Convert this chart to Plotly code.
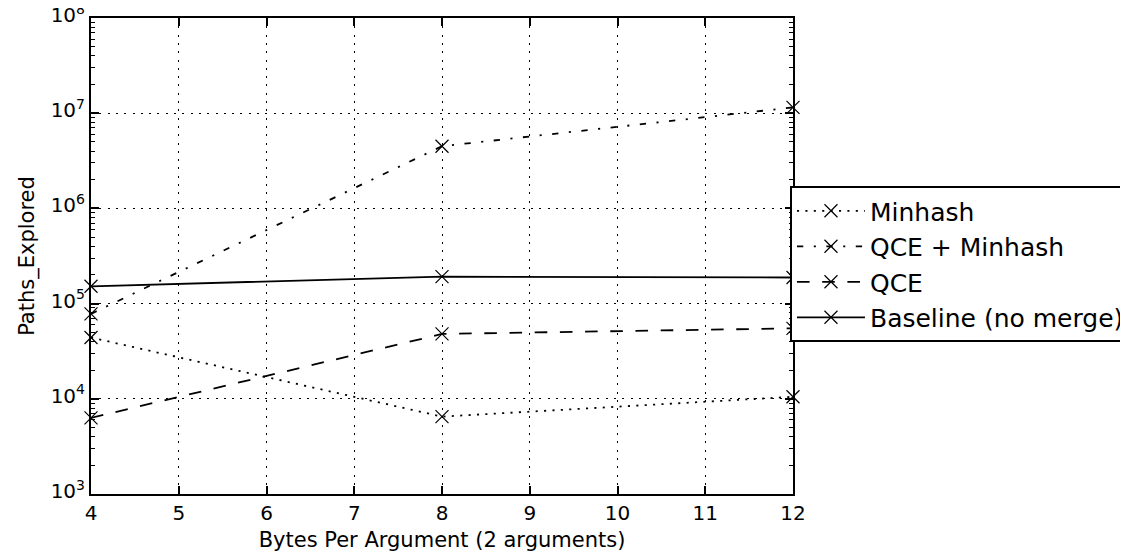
import plotly.graph_objects as go

x_vals = [4, 8, 12]
minhash = [4.4e4, 6.5e3, 1.05e4]
qce_minhash = [7.8e4, 4.5e6, 1.15e7]
qce = [6.3e3, 4.8e4, 5.5e4]
baseline = [1.52e5, 1.92e5, 1.88e5]

y_tickvals = [1e3, 1e4, 1e5, 1e6, 1e7, 1e8]
y_ticktext = ["10<sup>3</sup>", "10<sup>4</sup>", "10<sup>5</sup>",
              "10<sup>6</sup>", "10<sup>7</sup>", "10<sup>8</sup>"]

series = [
    ("Minhash", minhash, "2.1px,6.3px"),
    ("QCE + Minhash", qce_minhash, "6.3px,10.5px,2.1px,10.5px"),
    ("QCE", qce, "12.6px,12.6px"),
    ("Baseline (no merge)", baseline, "solid"),
]

FONT = "DejaVu Sans"
fig = go.Figure()
for name, ys, dash in series:
    fig.add_trace(go.Scatter(
        x=x_vals, y=ys, name=name, mode="lines+markers",
        line=dict(color="black", width=1.8, dash=dash),
        marker=dict(symbol="x-thin", size=13, line=dict(color="black", width=1.2)),
        cliponaxis=False,
    ))

fig.update_layout(
    width=1120, height=544,
    margin=dict(l=83, r=335, t=10, b=58, autoexpand=False),
    plot_bgcolor="white", paper_bgcolor="white",
    font=dict(family=FONT, color="black", size=20),
    showlegend=True,
    legend=dict(
        x=0.9957, y=0.647, xanchor="left", yanchor="top",
        bgcolor="white", bordercolor="black", borderwidth=2,
        font=dict(size=25, family=FONT),
        tracegroupgap=0, itemwidth=68,
    ),
)
fig.update_xaxes(
    range=[4, 12], dtick=1, tick0=4, automargin=False,
    showline=True, linecolor="black", linewidth=2, mirror="ticks",
    ticks="inside", ticklen=8, tickwidth=1.5, tickcolor="black",
    showgrid=True, gridcolor="black", griddash="2px,6.3px", gridwidth=1,
    zeroline=False, ticklabeloverflow="allow",
    title=dict(text="Bytes Per Argument (2 arguments)", font=dict(size=21), standoff=8),
    tickfont=dict(size=20, family=FONT),
)
fig.update_yaxes(
    type="log", range=[3, 8], tickmode="array", tickvals=y_tickvals, ticktext=y_ticktext,
    automargin=False, ticklabelshift=-3,
    showline=True, linecolor="black", linewidth=2, mirror="ticks",
    ticks="inside", ticklen=8, tickwidth=1.5, tickcolor="black",
    showgrid=True, gridcolor="black", griddash="2px,6.3px", gridwidth=1,
    minor=dict(ticks="inside", ticklen=4, tickwidth=1.2, tickcolor="black", dtick="D1", showgrid=False),
    zeroline=False, ticklabeloverflow="allow",
    title=dict(text="Paths_Explored", font=dict(size=21), standoff=10),
    tickfont=dict(size=20, family=FONT),
)
fig.write_html("out.html")
